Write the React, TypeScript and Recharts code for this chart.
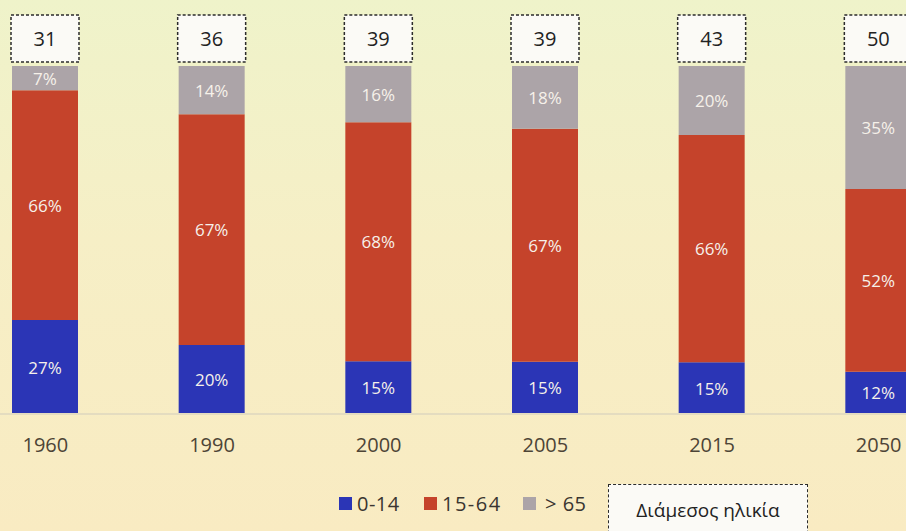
import React from "react";
import { BarChart, Bar, XAxis, YAxis, LabelList } from "recharts";

const years = ["1960", "1990", "2000", "2005", "2015", "2050"];
const young = [27, 20, 15, 15, 15, 12];
const working = [66, 67, 68, 67, 66, 52];
const old = [7, 14, 16, 18, 20, 35];
const medianAge = [31, 36, 39, 39, 43, 50];

const seriesNames = ["0-14", "15-64", "> 65"];
const colors = ["#2b35b6", "#c5432b", "#aca4a8"];
const boxTitle = "Διάμεσος ηλικία";

const data = years.map((y, i) => ({
  year: y,
  young: young[i],
  working: working[i],
  old: old[i],
}));

const FONT = "'Open Sans', 'Noto Sans', sans-serif";

const pctLabel = (arr: number[]) => (props: any) => {
  const { x, y, width, height, index } = props;
  return (
    <text
      x={x + width / 2}
      y={y + height / 2}
      textAnchor="middle"
      dominantBaseline="central"
      fill="#f6f1ea"
      fontSize={17}
      fontFamily={FONT}
    >
      {arr[index]}%
    </text>
  );
};

const medianLabel = (props: any) => {
  const { x, y, width, index } = props;
  const w = 68;
  const h = 47;
  const cx = x + width / 2;
  const top = y - 4 - h;
  return (
    <g>
      <rect
        x={cx - w / 2}
        y={top}
        width={w}
        height={h}
        fill="#fbfaf6"
        stroke="#2b2b2b"
        strokeWidth={1.5}
        strokeDasharray="3 2"
      />
      <text
        x={cx}
        y={top + h / 2}
        textAnchor="middle"
        dominantBaseline="central"
        fill="#222"
        fontSize={20}
        fontFamily={FONT}
      >
        {medianAge[index]}
      </text>
    </g>
  );
};

const legendLefts = [339, 424, 523];

export default function App() {
  return (
    <div
      style={{
        position: "absolute",
        left: 0,
        top: 0,
        width: 906,
        height: 531,
        overflow: "hidden",
        background: "linear-gradient(180deg, #eff3ca 0%, #f6efc6 45%, #f9ebc2 100%)",
        fontFamily: FONT,
      }}
    >
      <div style={{ position: "absolute", left: -38, top: 0 }}>
        <BarChart
          width={1000}
          height={531}
          data={data}
          stackOffset="expand"
          margin={{ top: 66, right: 0, bottom: 77, left: 0 }}
          barSize={66}
        >
          <XAxis
            dataKey="year"
            axisLine={{ stroke: "#e4dcc0", strokeWidth: 2 }}
            tickLine={false}
            height={40}
            tick={{ fill: "#4d4436", fontSize: 20, fontFamily: FONT, dy: 16 }}
          />
          <YAxis hide domain={[0, 1]} />
          <Bar dataKey="young" stackId="a" fill={colors[0]} isAnimationActive={false}>
            <LabelList content={pctLabel(young)} />
          </Bar>
          <Bar dataKey="working" stackId="a" fill={colors[1]} isAnimationActive={false}>
            <LabelList content={pctLabel(working)} />
          </Bar>
          <Bar dataKey="old" stackId="a" fill={colors[2]} isAnimationActive={false}>
            <LabelList content={pctLabel(old)} />
            <LabelList content={medianLabel} />
          </Bar>
        </BarChart>
      </div>
      {seriesNames.map((name, i) => (
        <div
          key={name}
          style={{
            position: "absolute",
            left: legendLefts[i],
            top: 490,
            display: "flex",
            alignItems: "center",
            fontSize: 20,
            color: "#3a3530",
            whiteSpace: "nowrap",
          }}
        >
          <span
            style={{
              display: "inline-block",
              width: 13,
              height: 13,
              background: colors[i],
              marginRight: i === 2 ? 9 : 5,
            }}
          />
          <span style={{ letterSpacing: i === 1 ? 1.5 : 0.5 }}>{name}</span>
        </div>
      ))}
      <div
        style={{
          position: "absolute",
          left: 608,
          top: 484,
          width: 200,
          height: 60,
          boxSizing: "border-box",
          border: "1.5px dashed #2b2b2b",
          background: "#fbfaf6",
          fontSize: 19,
          color: "#222",
          paddingTop: 12,
          textAlign: "center",
          whiteSpace: "nowrap",
        }}
      >
        {boxTitle}
      </div>
    </div>
  );
}
